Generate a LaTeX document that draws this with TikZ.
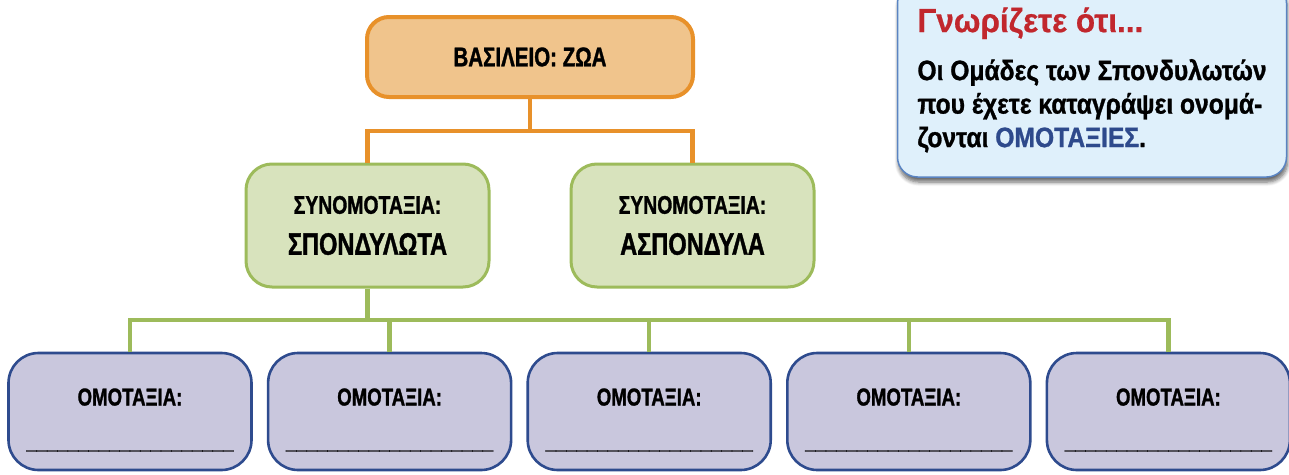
\documentclass[tikz,border=0pt]{standalone}
\usepackage{fontspec}
\setmainfont{Liberation Sans}[FakeStretch=0.76, FakeBold=1.2]
\newfontfamily\headfont{Liberation Sans}[FakeStretch=0.94, FakeBold=0.6]
\newfontfamily\notefont{Liberation Sans}[FakeStretch=0.88, FakeBold=1]
\usetikzlibrary{positioning,shadows.blur,calc}

\definecolor{kingfill}{HTML}{F0C48C}
\definecolor{kingline}{HTML}{E8912A}
\definecolor{phyfill}{HTML}{D8E3BD}
\definecolor{phyline}{HTML}{9DBB5B}
\definecolor{clsfill}{HTML}{C9C7DD}
\definecolor{clsline}{HTML}{2E4B8E}
\definecolor{notefill}{HTML}{DFF0FB}
\definecolor{noteline}{HTML}{5A84C2}
\definecolor{notered}{HTML}{C1272D}
\definecolor{noteblue}{HTML}{2E4A8C}

% a row of underscores for the blank to fill in
\def\us{\char95}
\newcommand{\blank}{\us\us\us\us\us\us\us\us\us\us\us\us\us\us\us\us\us\us\us\us}

\begin{document}
\begin{tikzpicture}[x=1pt, y=-1pt, font=\bfseries, node distance=14pt,
		box/.style={align=center, inner sep=0pt},
		kingdom/.style={box, draw=kingline, fill=kingfill, line width=4pt, rounded corners=22pt, minimum width=326pt, minimum height=80pt,
			font=\bfseries\fontsize{27}{30}\selectfont},
		phylum/.style={box, draw=phyline, fill=phyfill, line width=3pt, rounded corners=26pt, minimum width=243pt, minimum height=123pt,
			font=\bfseries\fontsize{25.5}{41}\selectfont},
		class/.style={box, draw=clsline, fill=clsfill, line width=2.6pt, rounded corners=30pt, minimum width=243pt, minimum height=117pt,
			font=\bfseries\fontsize{24.5}{30}\selectfont},
		note/.style={box, align=left, draw=noteline, fill=notefill, line width=1.5pt, rounded corners=20pt, minimum width=389pt, minimum height=194pt,
			font=\notefont\bfseries\fontsize{28}{33.5}\selectfont,
			blur shadow={shadow xshift=1pt, shadow yshift=-5pt, shadow blur steps=6, shadow blur radius=4pt, shadow opacity=60}},
		orangeline/.style={draw=kingline, line width=4.5pt},
		greenline/.style={draw=phyline, line width=4.5pt}]
	\useasboundingbox (0,0) rectangle (1289,474);

	% kingdom and the two phyla
	\node[kingdom] (zoa) at (530,57) {ΒΑΣΙΛΕΙΟ: ΖΩΑ};
	\node[phylum] (spo) at (367.5,225.5) {ΣΥΝΟΜΟΤΑΞΙΑ:\\ \fontsize{31}{41}\selectfont ΣΠΟΝΔΥΛΩΤΑ};
	\node[phylum] (asp) at (692.5,225.5) {ΣΥΝΟΜΟΤΑΞΙΑ:\\ \fontsize{31}{41}\selectfont ΑΣΠΟΝΔΥΛΑ};

	% the classes, one next to the other
	\node[class] (c1) at (130,411.5) {\rule{0pt}{34pt}ΟΜΟΤΑΞΙΑ:\\[13pt] \blank};
	\node[class, right=of c1] (c2) {\rule{0pt}{34pt}ΟΜΟΤΑΞΙΑ:\\[13pt] \blank};
	\node[class, right=of c2] (c3) {\rule{0pt}{34pt}ΟΜΟΤΑΞΙΑ:\\[13pt] \blank};
	\node[class, right=of c3] (c4) {\rule{0pt}{34pt}ΟΜΟΤΑΞΙΑ:\\[13pt] \blank};
	\node[class, right=of c4] (c5) {\rule{0pt}{34pt}ΟΜΟΤΑΞΙΑ:\\[13pt] \blank};

	% info box
	\node[note] (info) at (1092,80) {{\headfont\bfseries\fontsize{33.5}{40}\selectfont\color{notered}Γνωρίζετε ότι...}\\[14.5pt]
		Οι Ομάδες των Σπονδυλωτών\\
		που έχετε καταγράψει ονομά-\\
		ζονται {\color{noteblue}ΟΜΟΤΑΞΙΕΣ}.};

	% connectors
	\coordinate (k1) at ($(zoa.south)!.5!(zoa.south |- spo.north)$);
	\draw[orangeline] (zoa.south) -- (k1) -| (spo.north);
	\draw[orangeline] (k1) -| (asp.north);
	\coordinate (k2) at ($(spo.south)!.5!(spo.south |- c1.north)$);
	\draw[greenline] (spo.south) -- (k2);
	\foreach \c in {c1,c2,c3,c4,c5}
		\draw[greenline] (k2) -| (\c.north);
\end{tikzpicture}
\end{document}
